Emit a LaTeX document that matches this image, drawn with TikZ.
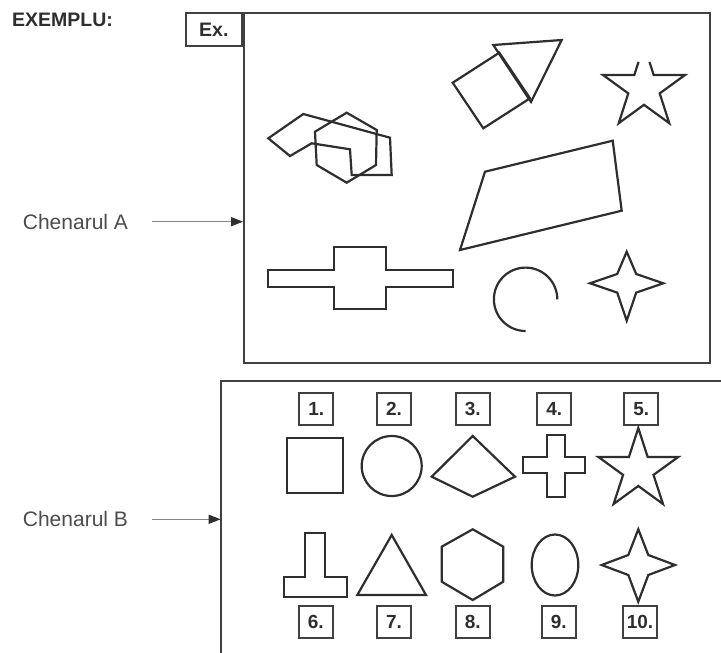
\documentclass[tikz,border=0pt]{standalone}
\usepackage{fontspec}
\setmainfont{Liberation Sans}
\usetikzlibrary{arrows.meta}
\definecolor{ink}{HTML}{2E2E2E}
\definecolor{frame}{HTML}{404040}
\definecolor{txt}{HTML}{4C4C4C}
\definecolor{arrgray}{HTML}{858585}
\tikzset{
  shp/.style={draw=ink, line width=2.2pt, line join=miter},
  frm/.style={draw=frame, line width=2.3pt},
  numbox/.style={draw=frame, line width=2pt, minimum width=34pt, minimum height=32pt, inner sep=0pt,
    font=\fontsize{19}{20}\selectfont\bfseries, text=ink},
  lbl/.style={font=\fontsize{21}{24}\selectfont, text=txt, inner sep=0pt, anchor=west},
  arr/.style={draw=arrgray, line width=1.2pt, -{Triangle[length=12pt,width=9pt,color=ink]}},
}
\begin{document}
\begin{tikzpicture}[x=1pt,y=-1pt]
\useasboundingbox (0,0) rectangle (721,653);

% header
\node[font=\fontsize{19.5}{21}\selectfont\bfseries, text=ink, anchor=west, inner sep=0pt] (ex) at (12,20) {EXEMPLU:};

% Chenarul A frame
\node[frm, anchor=north west, minimum width=466pt, minimum height=349.7pt, inner sep=0pt] (boxA) at (243,12) {};
\node[frm, anchor=north east, minimum width=56pt, minimum height=33pt, inner sep=0pt,
  font=\fontsize{19.5}{21}\selectfont\bfseries, text=ink] (exbox) at (243,12) {Ex.};

% Chenarul B frame (open)
\coordinate (bTL) at (220.7,380.7);
\coordinate (bTR) at (721,380.7);
\coordinate (bBL) at (220.7,653);
\draw[frm] (bTR) -- (bTL) -- (bBL);

% labels and arrows
\node[lbl] (ca) at (22.7,221.7) {Chenarul A};
\node[lbl] (cb) at (22.7,519.3) {Chenarul B};
\coordinate (caS) at (152,221.7);
\coordinate (cbS) at (152,519.3);
\draw[arr] (caS) -- (caS -| boxA.west);
\draw[arr] (cbS) -- (cbS -| bTL);

% ---- shapes in box A ----
% overlapping pentagon + hexagon
\draw[shp] (268.3,138.3) -- (303.3,114) -- (390,137.7) -- (391.7,175) -- (351.7,175) -- (350,149.3) -- (311.7,143.3) -- (290,156) -- cycle;
\draw[shp] (315,131.7) -- (346.7,112.7) -- (376.7,130) -- (376,165) -- (346.7,182.7) -- (316.7,165) -- cycle;
% square + triangle
\draw[shp] (452.7,82.7) -- (499.3,52.7) -- (530,98.3) -- (483.3,128.3) -- cycle;
\draw[shp] (493.3,45) -- (561.7,40) -- (531,102) -- cycle;
% star with open top
\draw[shp] (638.5,62) -- (634.3,75) -- (603,75) -- (628.3,93.4) -- (618.7,123.2) -- (644,104.8) -- (669.3,123.2) -- (659.7,93.4) -- (685,75) -- (653.7,75) -- (649.5,62);
% trapezoid
\draw[shp] (485,171.7) -- (612.7,140.7) -- (621.7,210.7) -- (460,250) -- cycle;
% long cross
\draw[shp] (268,270) -- (334,270) -- (334,247) -- (386,247) -- (386,270) -- (453,270) -- (453,287) -- (386,287) -- (386,309) -- (334,309) -- (334,287) -- (268,287) -- cycle;
% open arc
\draw[shp, line cap=butt] (557.3,299.3) arc[start angle=0, end angle=-270, radius=31.7];
% four-pointed star
\draw[shp] (626.7,251.7) -- (636.2,274) -- (663.3,283.3) -- (636.2,292.6) -- (626.7,320.7) -- (617.2,292.6) -- (590,283.3) -- (617.2,274) -- cycle;

% ---- box B: number boxes ----
\node[numbox] (n1) at (316.3,408.8) {1.};
\node[numbox] (n2) at (394,408.8) {2.};
\node[numbox] (n3) at (472.7,408.8) {3.};
\node[numbox] (n4) at (554.2,408.8) {4.};
\node[numbox] (n5) at (641.2,408.8) {5.};
\node[numbox] (n6) at (315.8,621.7) {6.};
\node[numbox] (n7) at (394,621.7) {7.};
\node[numbox] (n8) at (472.7,621.7) {8.};
\node[numbox] (n9) at (558.8,621.7) {9.};
\node[numbox] (n10) at (640,621.7) {10.};

% ---- box B: shapes row 1 ----
\draw[shp] (287.3,438.3) rectangle (342.7,493.3);
\draw[shp] (391.7,466) circle[radius=30];
\draw[shp] (431.7,476.7) -- (472.7,436) -- (515,476.7) -- (472.7,496.7) -- cycle;
\draw[shp] (546.7,435) -- (565,435) -- (565,456.7) -- (585,456.7) -- (585,473.3) -- (565,473.3) -- (565,496.7) -- (546.7,496.7) -- (546.7,473.3) -- (523.3,473.3) -- (523.3,456.7) -- (546.7,456.7) -- cycle;
\draw[shp] (638.3,428) -- (647.7,457.1) -- (678.2,457) -- (653.5,474.9) -- (663,504) -- (638.3,486) -- (613.6,504) -- (623.1,474.9) -- (598.4,457) -- (628.9,457.1) -- cycle;

% ---- box B: shapes row 2 ----
\draw[shp] (305,533.3) -- (325,533.3) -- (325,577.3) -- (347.3,577.3) -- (347.3,596.7) -- (284,596.7) -- (284,577.3) -- (305,577.3) -- cycle;
\draw[shp] (391.7,535) -- (426,595) -- (357.3,595) -- cycle;
\draw[shp] (472.7,529.3) -- (503.3,546.7) -- (503.3,581.7) -- (472.7,600) -- (441.7,581.7) -- (441.7,546.7) -- cycle;
\draw[shp] (555,565) ellipse[x radius=23.3, y radius=30.5];
\draw[shp] (638.3,529.3) -- (648.3,555) -- (675,565) -- (648.3,575) -- (638.3,601.7) -- (628.3,575) -- (601.7,565) -- (628.3,555) -- cycle;
\end{tikzpicture}
\end{document}
